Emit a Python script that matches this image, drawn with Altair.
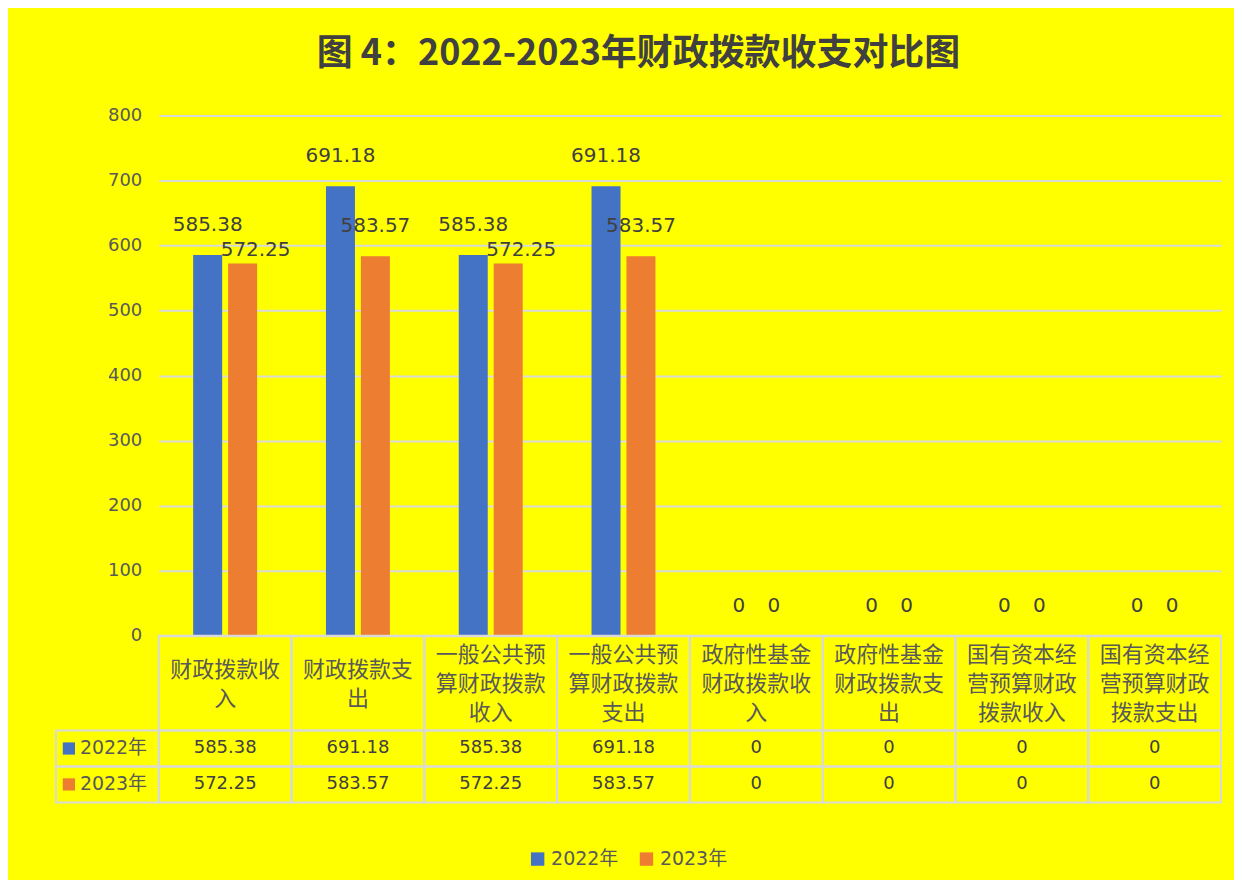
import altair as alt
import pandas as pd

categories = [
    "财政拨款收入", "财政拨款支出",
    "一般公共预算财政拨款收入", "一般公共预算财政拨款支出",
    "政府性基金财政拨款收入", "政府性基金财政拨款支出",
    "国有资本经营预算财政拨款收入", "国有资本经营预算财政拨款支出",
]
years = ["2022年", "2023年"]
values_2022 = [585.38, 691.18, 585.38, 691.18, 0, 0, 0, 0]
values_2023 = [572.25, 583.57, 572.25, 583.57, 0, 0, 0, 0]
colors = ["#4472C4", "#ED7D31"]

rows = []
for i, c in enumerate(categories):
    rows.append({"category": c, "year": years[0], "value": values_2022[i]})
    rows.append({"category": c, "year": years[1], "value": values_2023[i]})
df = pd.DataFrame(rows)

CJK = "Noto Sans CJK SC"
FONT = "DejaVu Sans, Noto Sans CJK SC"
GRID = "#d9d9d9"
TXT = "#404040"
W = 1064

color = alt.Color(
    "year:N",
    scale=alt.Scale(domain=years, range=colors),
    legend=alt.Legend(
        title=None, orient="none", direction="horizontal",
        legendX=370, legendY=735,
        symbolType="square", symbolSize=180, symbolStrokeWidth=0,
        labelFontSize=19, labelColor="#595959", labelFont=FONT,
        columnPadding=18,
    ),
)

x_top = alt.X("category:N", sort=categories,
              scale=alt.Scale(paddingInner=0, paddingOuter=0), axis=None)
x_off = alt.XOffset("year:N", sort=years,
                    scale=alt.Scale(paddingInner=0.17, paddingOuter=0.985))
y_top = alt.Y(
    "value:Q", scale=alt.Scale(domain=[0, 800]),
    axis=alt.Axis(
        title=None, values=list(range(0, 801, 100)),
        domain=False, ticks=False, labelPadding=17,
        labelFontSize=18, labelColor="#595959", labelFont=FONT,
        gridColor=GRID, gridWidth=2,
    ),
)

crowded = "datum.year == '2023年' && (datum.category == '%s' || datum.category == '%s')" % (
    categories[0], categories[2])

base = alt.Chart(df)
bars = base.mark_bar().encode(x=x_top, xOffset=x_off, y=y_top, color=color)
labels = base.transform_filter("!(" + crowded + ")").mark_text(
    baseline="middle", align="center", dy=-30, fontSize=20, color=TXT, font=FONT
).encode(x=x_top, xOffset=x_off, y=y_top, text=alt.Text("value:Q", format=".2~f"))
labels_shifted = base.transform_filter(crowded).mark_text(
    baseline="middle", align="center", dx=13, dy=-14, fontSize=20, color=TXT, font=FONT
).encode(x=x_top, xOffset=x_off, y=y_top, text=alt.Text("value:Q", format=".2~f"))

top = alt.layer(bars, labels, labels_shifted).properties(width=W, height=521)

# header row of the data table
cat_df = pd.DataFrame({"category": categories})
wrap_expr = (
    "length(datum.category) <= 10 ? "
    "[substring(datum.category,0,5), substring(datum.category,5)] : "
    "[substring(datum.category,0,5), substring(datum.category,5,10), substring(datum.category,10)]"
)
x_head = alt.X("category:N", sort=categories,
               scale=alt.Scale(paddingInner=0, paddingOuter=0), axis=None)
hbase = alt.Chart(cat_df).transform_calculate(wrapped=wrap_expr)
head_cells = hbase.mark_rect(fillOpacity=0, stroke=GRID, strokeWidth=2).encode(
    x=x_head, y=alt.value(0), y2=alt.value(95))
head_text2 = hbase.transform_filter("length(datum.category) <= 10").mark_text(
    fontSize=22, color="#595959", font=CJK, baseline="middle", lineHeight=29
).encode(x=x_head, y=alt.value(34), text="wrapped:N")
head_text3 = hbase.transform_filter("length(datum.category) > 10").mark_text(
    fontSize=22, color="#595959", font=CJK, baseline="middle", lineHeight=29
).encode(x=x_head, y=alt.value(19), text="wrapped:N")
header = alt.layer(head_cells, head_text2, head_text3).properties(width=W, height=95)

# value rows of the data table
x_tab = alt.X("category:N", sort=categories,
              scale=alt.Scale(paddingInner=0, paddingOuter=0), axis=None)
y_tab = alt.Y("year:N", sort=years,
              scale=alt.Scale(paddingInner=0, paddingOuter=0), axis=None)
tbase = alt.Chart(df)
cells = tbase.mark_rect(fillOpacity=0, stroke=GRID, strokeWidth=2).encode(x=x_tab, y=y_tab)
cell_text = tbase.mark_text(fontSize=18, color=TXT, font=FONT).encode(
    x=x_tab, y=y_tab, text=alt.Text("value:Q", format=".2~f"))

year_df = pd.DataFrame({"year": years})
ybase = alt.Chart(year_df)
left_cells = ybase.mark_rect(fillOpacity=0, stroke=GRID, strokeWidth=2).encode(
    x=alt.value(-103), x2=alt.value(0), y=y_tab)
left_keys = ybase.mark_square(size=150, opacity=1).encode(
    x=alt.value(-90), y=y_tab, color=color)
left_text = ybase.mark_text(fontSize=19, color="#595959", font=FONT, align="left").encode(
    x=alt.value(-79), y=y_tab, text="year:N")

table = alt.layer(cells, cell_text, left_cells, left_keys, left_text).properties(
    width=W, height=72)

chart = alt.vconcat(top, header, table, spacing=0, bounds="flush").resolve_scale(
    x="independent", y="independent", color="shared"
).properties(
    title=alt.TitleParams(
        "图 4：2022-2023年财政拨款收支对比图",
        fontSize=36, font=CJK, fontWeight="bold", color=TXT,
        anchor="middle", offset=34,
    ),
    background="#FFFF00",
    padding={"left": 47, "top": 27, "right": 12, "bottom": 10},
).configure_view(stroke=None)

chart.save("out.html", embed_options={"renderer": "svg", "actions": False})
